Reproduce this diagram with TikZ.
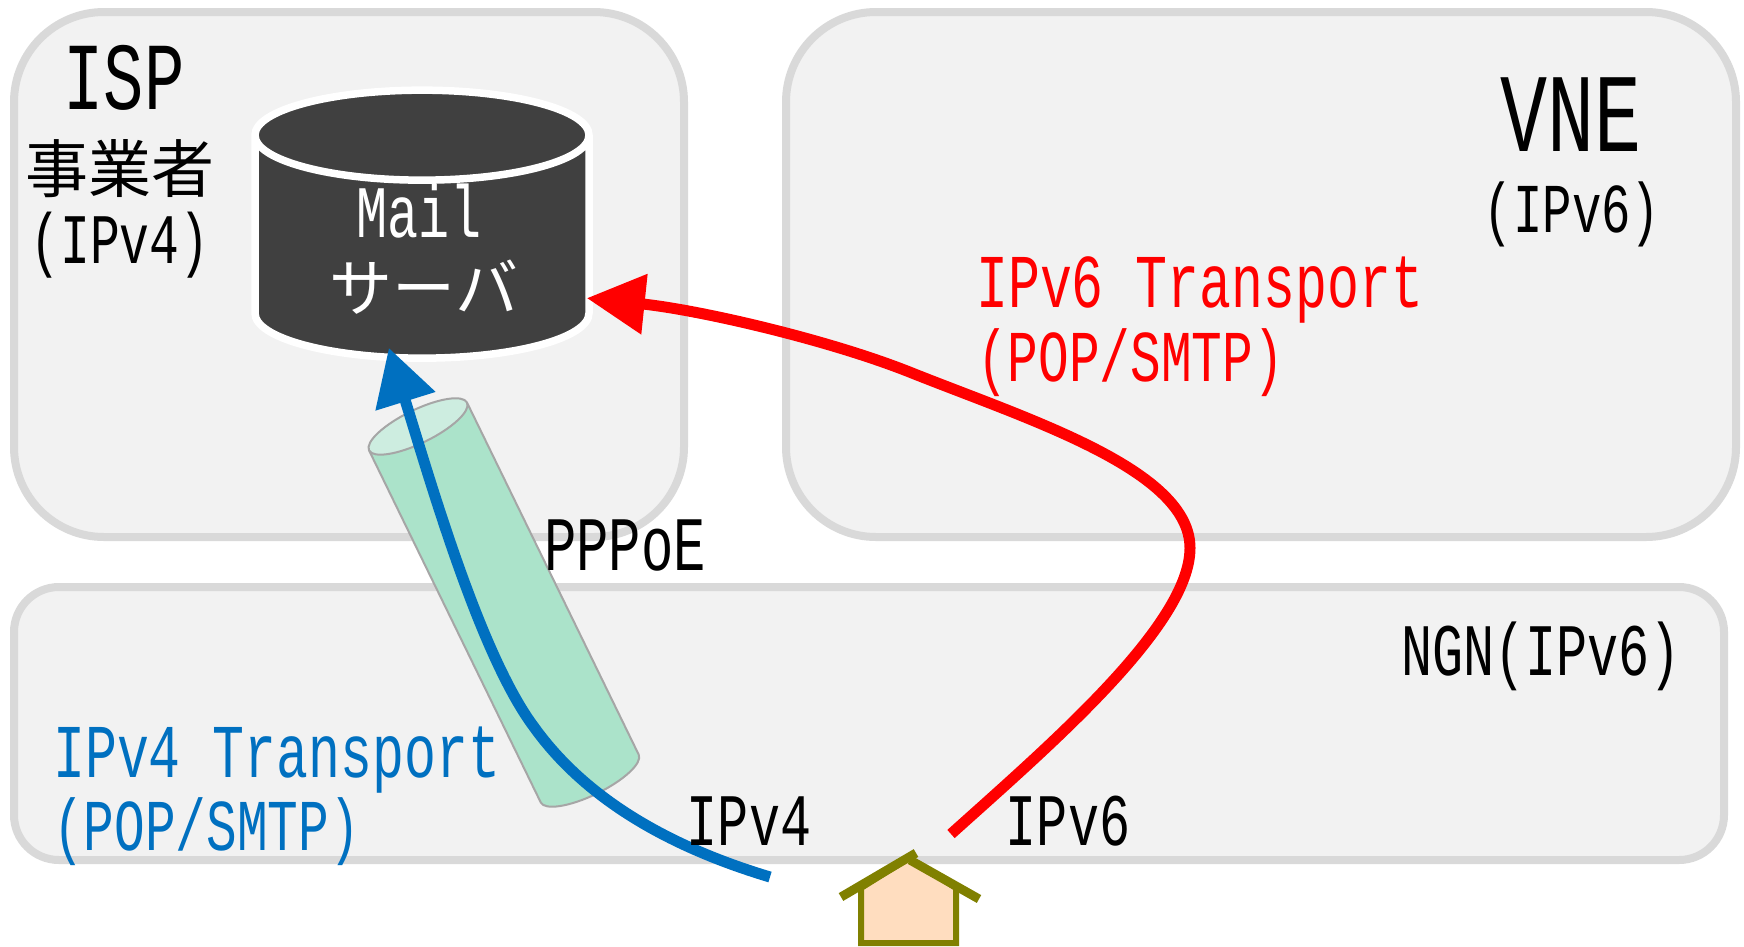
\documentclass[tikz,border=0pt]{standalone}
\usepackage{fontspec}
\usetikzlibrary{shapes.geometric,arrows.meta}
\setmainfont[FakeStretch=.7]{Liberation Mono}
\newfontfamily\jpfont{Noto Sans CJK JP}
\definecolor{zonefill}{HTML}{F2F2F2}
\definecolor{zoneline}{HTML}{D9D9D9}
\definecolor{srvfill}{HTML}{404040}
\definecolor{tubeside}{HTML}{ABE3CA}
\definecolor{tubeend}{HTML}{CDEDE0}
\definecolor{tubeline}{HTML}{A6A6A6}
\definecolor{vfourblue}{HTML}{0070C0}
\definecolor{houseline}{HTML}{808000}
\definecolor{housefill}{HTML}{FFDDBF}
\newcommand{\BL}[1]{\textcolor{vfourblue}{#1}}
\newcommand{\RD}[1]{\textcolor{red}{#1}}
\newcommand{\FS}[1]{\fontsize{#1}{#1}\selectfont}
\tikzset{
  zonebox/.style={draw=zoneline, fill=zonefill, line width=8pt, rounded corners=#1},
  lbl/.style={inner sep=0pt, font=\FS{74}},
  arrowline/.style={line width=11pt, -{Triangle[width=60pt,length=56pt]}}
}
\begin{document}
\begin{tikzpicture}[x=1pt, y=1pt]

  \useasboundingbox (0,0) rectangle (1744,-946);

  \node (isp) [zonebox=90pt, minimum width=670pt, minimum height=525pt] at (349,-274.5) {};
  \node (vne) [zonebox=90pt, minimum width=950pt, minimum height=525pt] at (1261,-274.5) {};
  \node (ngn) [zonebox=45pt, minimum width=1710pt, minimum height=273pt] at (869,-723.5) {};

  % PPPoE tube
  \node (tube) [cylinder, rotate=116, aspect=5, draw=tubeline, line width=2pt,
    cylinder uses custom fill, cylinder body fill=tubeside, cylinder end fill=tubeend,
    minimum height=425pt, minimum width=109pt] at (509,-613) {};

  \node (mail) [cylinder, shape border rotate=90, aspect=13.5, draw=white, fill=srvfill,
    line width=7.5pt, minimum height=268pt, minimum width=334pt] at (422,-253) {};
  \node (mailtxt) [lbl, white] at (419,-211) {Mail};
  \node (srvtxt) [lbl, white, font=\jpfont\FS{63}] at (424,-287) {サーバ};

  \coordinate (vfour) at (770,-877);
  \coordinate (vsix) at (951,-834);

  \draw[arrowline, vfourblue, shorten >=-14pt] (vfour) .. controls (680,-850) and (590,-805) .. (534,-727)
    .. controls (480,-655) and (430,-480) .. (mail.255);
  \draw[arrowline, red, shorten >=-6pt, -{Triangle[width=58pt,length=58pt]}] (vsix) .. controls (1050,-745) and (1190,-625) .. (1190,-548)
    .. controls (1190,-470) and (1030,-420) .. (912,-373)
    .. controls (830,-340) and (700,-310) .. (mail.-15);

  % house
  \draw[houseline, fill=housefill, line width=6pt] (861,-888) -- (861,-943) -- (956,-943) -- (956,-888) -- (909,-858) -- cycle;
  \draw[houseline, line width=9pt] (841,-897) -- (916,-853);
  \draw[houseline, line width=9pt] (910,-860) -- (979,-899);

  \node (isplbl) [lbl, font=\FS{96}] at (124,-78) {ISP};
  \node (ispjp) [lbl, font=\jpfont\FS{63}] at (120,-169) {事業者};
  \node (ispnet) [lbl, font=\FS{71}] at (120,-245) {(IPv4)};
  \node (vnelbl) [lbl, font=\FS{112}] at (1571,-115) {VNE};
  \node (vnenet) [lbl, font=\FS{70}] at (1572,-214) {(IPv6)};
  \node (vsixa) [lbl, anchor=west, font=\FS{76}] at (976,-290) {\RD{IPv6 Transport}};
  \node (vsixb) [lbl, anchor=west, font=\FS{73}] at (977,-363) {\RD{(POP/SMTP)}};
  \node (ppp) [lbl, font=\FS{77}] at (625,-546) {PPPoE};
  \node (ngnlbl) [lbl] at (1541,-656) {NGN(IPv6)};
  \node (vfoura) [lbl, anchor=west, font=\FS{76}] at (53,-760) {\BL{IPv4 Transport}};
  \node (vfourb) [lbl, anchor=west, font=\FS{73}] at (53,-832) {\BL{(POP/SMTP)}};
  \node (vfourlbl) [lbl] at (749,-821) {IPv4};
  \node (vsixlbl) [lbl] at (1068,-821) {IPv6};

\end{tikzpicture}
\end{document}
